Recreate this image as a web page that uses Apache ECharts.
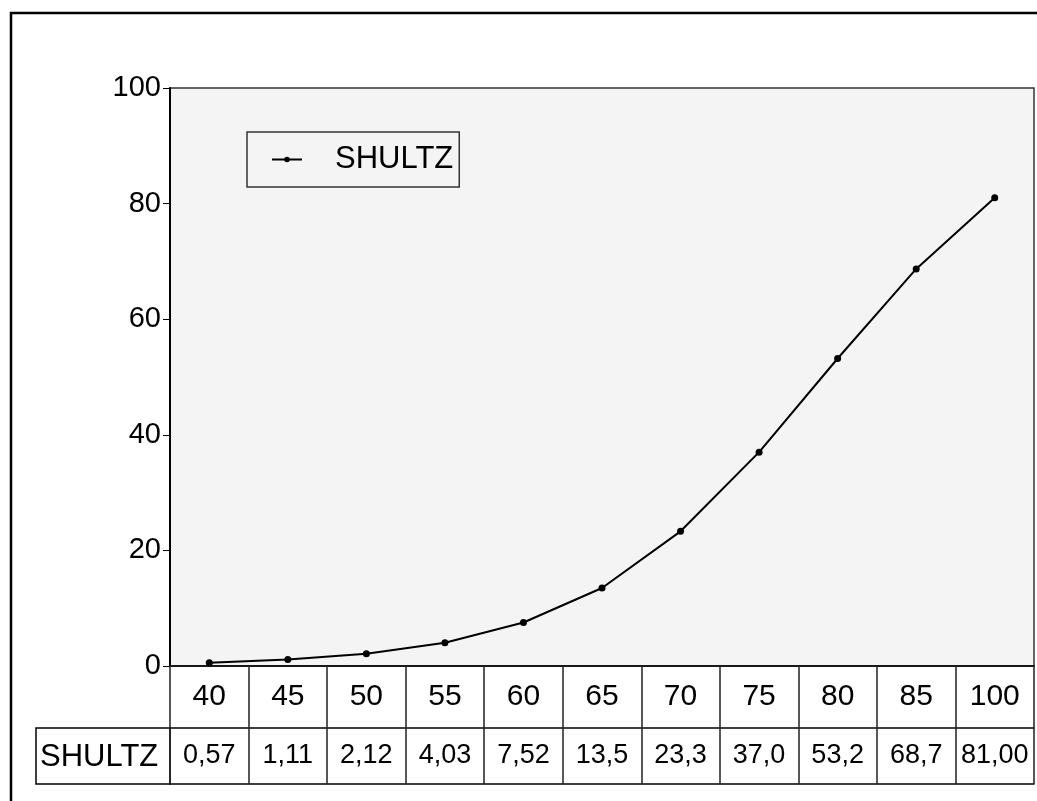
<!DOCTYPE html>
<html>
<head>
<meta charset="utf-8">
<script src="https://cdn.jsdelivr.net/npm/echarts@6/dist/echarts.min.js"></script>
<style>
  html, body { margin: 0; padding: 0; background: #fff; }
  #main { width: 1037px; height: 801px; }
</style>
</head>
<body>
<div id="main"></div>
<script>
// chart data
var seriesName = "SHULTZ";
var categories = ["40", "45", "50", "55", "60", "65", "70", "75", "80", "85", "100"];
var values = [0.57, 1.11, 2.12, 4.03, 7.52, 13.5, 23.3, 37.0, 53.2, 68.7, 81.0];
var valueLabels = ["0,57", "1,11", "2,12", "4,03", "7,52", "13,5", "23,3", "37,0", "53,2", "68,7", "81,00"];
var yTicks = [0, 20, 40, 60, 80, 100];

var font = "Liberation Sans, Arial, sans-serif";

var myChart = echarts.init(document.getElementById("main"));

var option = {
  backgroundColor: "#ffffff",
  animation: false,
  textStyle: { fontFamily: font, color: "#000" },
  grid: {
    left: 170,
    top: 88,
    right: 3,
    bottom: 135,
    show: true,
    backgroundColor: "#f4f4f4",
    borderColor: "#333",
    borderWidth: 1.5
  },
  legend: {
    data: [seriesName],
    left: 247,
    top: 132,
    padding: [12, 6, 12, 24],
    backgroundColor: "#f4f4f4",
    borderColor: "#333",
    borderWidth: 1.5,
    borderRadius: 0,
    itemWidth: 30,
    itemHeight: 7,
    textStyle: { fontSize: 31, color: "#000", fontFamily: font, padding: [0, 0, 0, 28] }
  },
  xAxis: [
    {
      type: "category",
      data: categories,
      position: "bottom",
      boundaryGap: true,
      axisLine: { show: true, lineStyle: { color: "#000", width: 1.5 } },
      axisTick: { show: true, interval: 0, length: 118, lineStyle: { color: "#222", width: 1.5 } },
      axisLabel: { interval: 0, fontSize: 30, color: "#000", margin: 16, fontFamily: font },
      splitLine: { show: false }
    },
    {
      type: "category",
      data: valueLabels,
      position: "bottom",
      offset: 62,
      boundaryGap: true,
      axisLine: { show: true, lineStyle: { color: "#000", width: 1.5 } },
      axisTick: { show: false },
      axisLabel: { interval: 0, fontSize: 27, color: "#000", margin: 14, fontFamily: font },
      splitLine: { show: false }
    },
    {
      type: "category",
      data: categories,
      position: "bottom",
      offset: 118,
      axisLine: { show: true, lineStyle: { color: "#000", width: 1.5 } },
      axisTick: { show: false },
      axisLabel: { show: false }
    }
  ],
  yAxis: {
    type: "value",
    min: 0,
    max: 100,
    interval: 20,
    axisLine: { show: true, lineStyle: { color: "#000", width: 2 } },
    axisTick: { show: true, length: 7, lineStyle: { color: "#000", width: 1 } },
    axisLabel: {
      fontSize: 29,
      color: "#000",
      margin: 9,
      fontFamily: font,
      formatter: function (v) { return yTicks.indexOf(v) >= 0 ? String(v) : ""; }
    },
    splitLine: { show: false }
  },
  graphic: [
    {
      type: "rect",
      shape: { x: 11, y: 13, width: 1100, height: 1000 },
      style: { fill: "none", stroke: "#000", lineWidth: 2.5 },
      silent: true
    },
    {
      type: "rect",
      shape: { x: 36, y: 728, width: 134, height: 56 },
      style: { fill: "#fff", stroke: "#000", lineWidth: 1.5 },
      silent: true
    },
    {
      type: "text",
      x: 40,
      y: 757,
      style: { text: seriesName, fontSize: 31, fontFamily: font, fill: "#000", verticalAlign: "middle" },
      silent: true
    }
  ],
  series: [
    {
      name: seriesName,
      type: "line",
      data: values,
      symbol: "circle",
      symbolSize: 7,
      lineStyle: { color: "#000", width: 2 },
      itemStyle: { color: "#000" }
    }
  ]
};

myChart.setOption(option);
</script>
</body>
</html>
